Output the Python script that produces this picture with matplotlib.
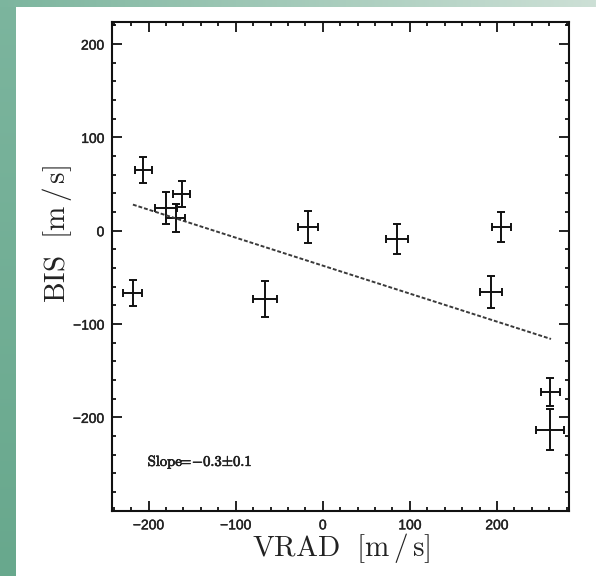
import numpy as np
import matplotlib
matplotlib.use("Agg")
import matplotlib.pyplot as plt
import matplotlib.patheffects as pe
from matplotlib.ticker import MultipleLocator

plt.rcParams['mathtext.fontset'] = 'cm'

# ---- data ----
vrad = [-218, -206, -180, -169, -162, -66, -17, 85, 193, 205, 261, 261]
bis = [-67, 65, 24, 14, 39, -73, 4, -9, -66, 4, -173, -213]
vrad_err = [11, 10, 13, 11, 10, 14, 12, 13, 13, 11, 11, 16]
bis_err = [14, 14, 17, 15, 14, 19, 17, 16, 17, 16, 15, 22]
fit_x = [-218, 262]
fit_y = [28, -116]
xticks = [-200, -100, 0, 100, 200]
yticks = [-200, -100, 0, 100, 200]
slope_text = r'$\mathrm{Slope}\!\!=\!{-}0.3{\pm}0.1$'
xlabel = r'$\mathrm{VRAD}\ \ [\mathrm{m}\,/\,\mathrm{s}]$'
ylabel = r'$\mathrm{BIS}\ \ [\mathrm{m}\,/\,\mathrm{s}]$'

W, H = 596, 576
fig = plt.figure(figsize=(W / 100, H / 100), dpi=100)
fig.patch.set_facecolor('white')

# background decoration (green slide strips)
bg = fig.add_axes([0, 0, 1, 1], zorder=-10)
img = np.ones((H, W, 3))
left_top = np.array([124, 181, 158]) / 255
left_bot = np.array([104, 168, 141]) / 255
top_right = np.array([205, 224, 214]) / 255
t = np.linspace(0, 1, H)[:, None]
img[:, :16, :] = (left_top * (1 - t) + left_bot * t)[:, None, :]
s = np.linspace(0, 1, W)[:, None]
img[:7, :, :] = (left_top * (1 - s) + top_right * s)[None, :, :]
bg.imshow(img, aspect='auto', extent=[0, 1, 0, 1], interpolation='bilinear')
bg.axis('off')

ax = fig.add_axes([112 / W, 1 - 510.7 / H, (569.3 - 112) / W, (510.7 - 21.7) / H])
ax.set_xlim(-242, 283)
ax.set_ylim(-300, 224)

ax.errorbar(vrad, bis, xerr=vrad_err, yerr=bis_err, fmt='none', ecolor='#111111',
            elinewidth=1.4, capsize=2.8, capthick=1.4)
ax.plot(fit_x, fit_y, color='#3a3a3a', lw=1.4, linestyle=(0, (2, 1)))

bold = [pe.withStroke(linewidth=0.5, foreground='#222222')]
ax.text(-201, -252, slope_text, fontsize=10.5, color='#222222', va='baseline', ha='left',
        path_effects=bold)

ax.set_xticks(xticks)
ax.set_yticks(yticks)
ax.xaxis.set_minor_locator(MultipleLocator(20))
ax.yaxis.set_minor_locator(MultipleLocator(20))
ax.tick_params(which='both', direction='in', top=True, right=True, width=1.3, color='#111111')
ax.tick_params(which='major', length=7.5, pad=5.5, labelsize=10, labelcolor='#222222')
ax.tick_params(which='minor', length=3.2)
for lab in ax.get_xticklabels() + ax.get_yticklabels():
    lab.set_family('Liberation Sans')
    lab.set_path_effects([pe.withStroke(linewidth=0.3, foreground='#222222')])
for sp in ax.spines.values():
    sp.set_linewidth(1.5)
    sp.set_color('#111111')

ax.set_xlabel(xlabel, fontsize=21, color='#222222')
ax.set_ylabel(ylabel, fontsize=21, color='#222222')
ax.xaxis.set_label_coords(0.5, -0.042)
ax.yaxis.set_label_coords(-0.083, 0.566)

fig.savefig('out.png', dpi=100)
